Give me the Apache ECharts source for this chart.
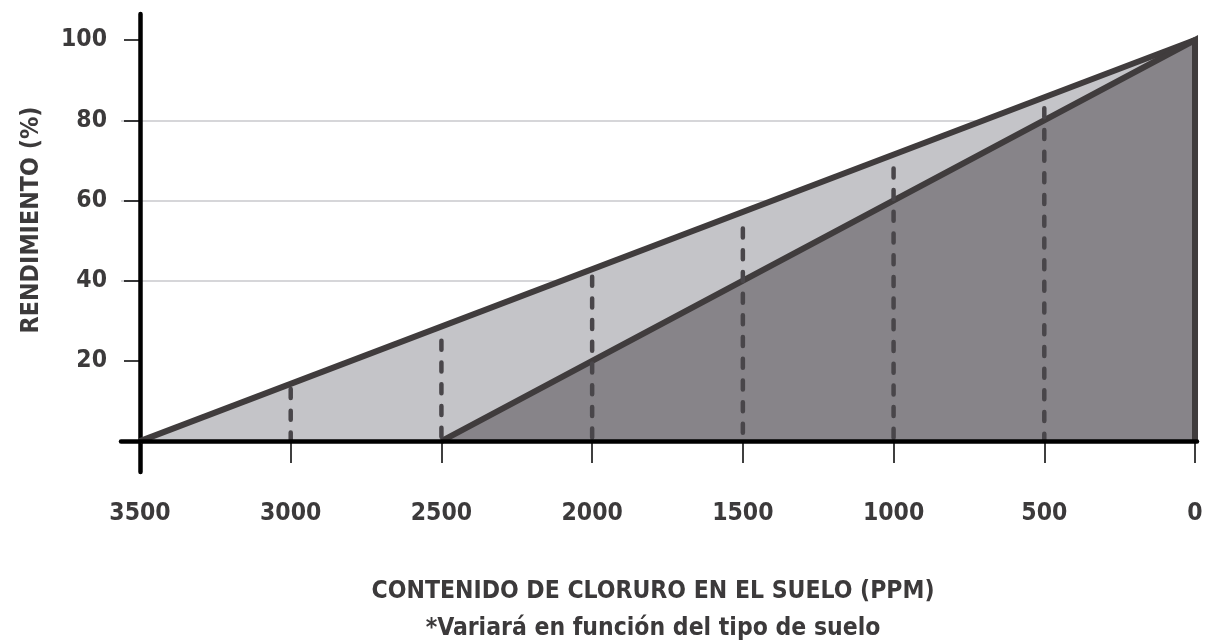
<!DOCTYPE html>
<html><head><meta charset="utf-8">
<script src="https://cdn.jsdelivr.net/npm/echarts@6/dist/echarts.min.js"></script>
<style>html,body{margin:0;padding:0;background:#fff}#c{width:1207px;height:643px}</style>
</head><body><div id="c"></div>
<script>
// ---- data ----
const xTicks = [0, 500, 1000, 1500, 2000, 2500, 3000, 3500];
const yTicks = [20, 40, 60, 80, 100];
const upperX = [3500, 0];
const upperY = [0, 100];
const lowerX = [2500, 0, 0];
const lowerY = [0, 100, 0];
const dashX = [3000, 2500, 2000, 1500, 1000, 500];
const dashTop = [13, 25, 41, 53, 68, 83];
const xTitle = 'CONTENIDO DE CLORURO EN EL SUELO (PPM)';
const xNote = '*Variará en función del tipo de suelo';
const yTitle = 'RENDIMIENTO (%)';

const FONT = "'DejaVu Sans Condensed', 'DejaVu Sans', sans-serif";
const TXT = '#3c3a3b';
const EDGE = '#403c3d';

const chart = echarts.init(document.getElementById('c'), null, {renderer: 'canvas'});
const series = [
  {
    type: 'line', data: upperX.map((x, i) => [x, upperY[i]]), symbol: 'none', silent: true,
    lineStyle: {color: EDGE, width: 6, join: 'miter'},
    areaStyle: {color: '#c4c4c8', opacity: 1}, z: 2
  },
  {
    type: 'line', data: lowerX.map((x, i) => [x, lowerY[i]]), symbol: 'none', silent: true,
    lineStyle: {color: EDGE, width: 6, join: 'miter'},
    areaStyle: {color: '#878489', opacity: 1}, z: 2
  }
].concat(dashX.map((x, i) => ({
  type: 'line', data: [[x, dashTop[i]], [x, 0]], symbol: 'none', silent: true,
  lineStyle: {color: '#49464a', width: 4.5, type: [9, 12.7], cap: 'round'}, z: 3
})));

chart.setOption({
  animation: false,
  backgroundColor: '#fff',
  grid: {left: 121, right: 10, top: 14, bottom: 171, containLabel: false, outerBoundsMode: 'none'},
  title: {
    text: xTitle + '\n' + xNote,
    left: 653, top: 573, textAlign: 'center', padding: 0,
    textStyle: {fontFamily: FONT, fontWeight: 'bold', fontSize: 24.5, color: TXT, lineHeight: 37, align: 'center'}
  },
  graphic: [{
    type: 'text', x: 32, y: 220, rotation: Math.PI / 2, silent: true,
    style: {text: yTitle, fontFamily: FONT, fontWeight: 'bold', fontSize: 24.8, fill: TXT, align: 'center', verticalAlign: 'middle'}
  }],
  xAxis: {
    type: 'value', inverse: true, min: -6.6, max: 3563, z: 5,
    axisLine: {show: true, onZero: true, lineStyle: {color: '#000', width: 4.5}},
    axisTick: {show: true, customValues: xTicks, length: 22, lineStyle: {color: '#000', width: 1.5}},
    axisLabel: {customValues: xTicks, margin: 29, formatter: v => String(v), fontFamily: FONT, fontWeight: 'bold', fontSize: 24.5, color: TXT},
    splitLine: {show: false}
  },
  yAxis: {
    type: 'value', min: -7.7, max: 106.5, offset: -19, z: 0,
    axisLine: {show: true, onZero: false, lineStyle: {color: '#000', width: 4.5}},
    axisTick: {show: true, customValues: yTicks, length: 16, lineStyle: {color: '#000', width: 1.5}},
    axisLabel: {customValues: yTicks, margin: 33, formatter: v => String(v), fontFamily: FONT, fontWeight: 'bold', fontSize: 24.5, color: TXT},
    splitLine: {show: true, showMinLine: false, showMaxLine: false, lineStyle: {color: '#c9c8cc', width: 1.5}}
  },
  series: series
});
</script></body></html>
